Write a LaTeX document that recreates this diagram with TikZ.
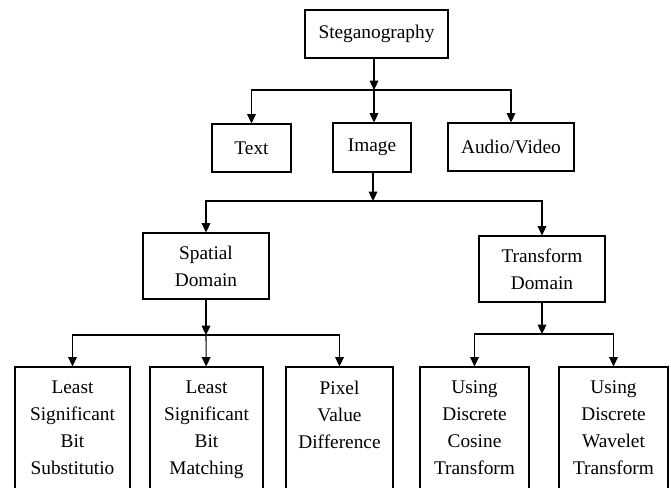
\documentclass[tikz,border=0pt]{standalone}
\usepackage{fontspec}
\setmainfont{Liberation Serif}
\usetikzlibrary{arrows.meta}

\begin{document}
\begin{tikzpicture}[x=0.75pt, y=-0.75pt, >={Triangle[length=7pt, width=6.5pt]}, line width=0.8pt,
  box/.style={draw, black, align=center, inner sep=0pt,
    font=\fontsize{14.5}{20.25}\selectfont},
  leaf/.style={box, minimum height=130*0.75pt}]

\useasboundingbox (0,0) rectangle (671,487);
\clip (0,0) rectangle (671,487);

% TOP LEVEL
  \node[box, minimum width=143*0.75pt, minimum height=48*0.75pt] (steg) at (376.5, 34) {Steganography};

% MEDIA
  \node[box, minimum width=79*0.75pt,  minimum height=48*0.75pt] (text)  at (251.5, 148)   {Text};
  \node[box, minimum width=78*0.75pt,  minimum height=49*0.75pt] (image) at (372.0, 147.5) {Image};
  \node[box, minimum width=126*0.75pt, minimum height=48*0.75pt] (audio) at (511.0, 147)   {Audio/Video};

% DOMAINS
  \node[box, minimum width=126*0.75pt, minimum height=66*0.75pt] (spatial)   at (206, 266) {Spatial\\Domain};
  \node[box, minimum width=126*0.75pt, minimum height=66*0.75pt] (transform) at (542, 269) {Transform\\Domain};

% METHODS
  \node[leaf, minimum width=115*0.75pt] (lsbs) at ( 72.5, 432) {Least\\Significant\\Bit\\Substitutio\strut};
  \node[leaf, minimum width=113*0.75pt] (lsbm) at (206.5, 432) {Least\\Significant\\Bit\\Matching\strut};
  \node[leaf, minimum width=107*0.75pt] (pvd)  at (339.5, 432) {Pixel\\Value\\Difference\\\strut};
  \node[leaf, minimum width=109*0.75pt] (dct)  at (474.5, 432) {Using\\Discrete\\Cosine\\Transform\strut};
  \node[leaf, minimum width=109*0.75pt] (dwt)  at (613.5, 432) {Using\\Discrete\\Wavelet\\Transform\strut};

% junctions
  \coordinate (j1) at (374,  90);
  \coordinate (j2) at (373, 201);
  \coordinate (j3) at (206, 335);
  \coordinate (j4) at (542, 334);

% connectors
  \draw[->] (steg.south -| j1) -- (j1);
  \draw[->] (j1) -| (text);
  \draw[->] (j1) -- (j1 |- image.north);
  \draw[->] (j1) -| (audio);

  \draw[->] (image.south -| j2) -- (j2);
  \draw[->] (j2) -| (spatial);
  \draw[->] (j2) -| (transform);

  \draw[->] (spatial) -- (j3);
  \draw[->] (j3) -| (lsbs);
  \draw[->] (j3) -- (lsbm);
  \draw[->] (j3) -| (pvd);

  \draw[->] (transform) -- (j4);
  \draw[->] (j4) -| (dct);
  \draw[->] (j4) -| (dwt);

\end{tikzpicture}
\end{document}
